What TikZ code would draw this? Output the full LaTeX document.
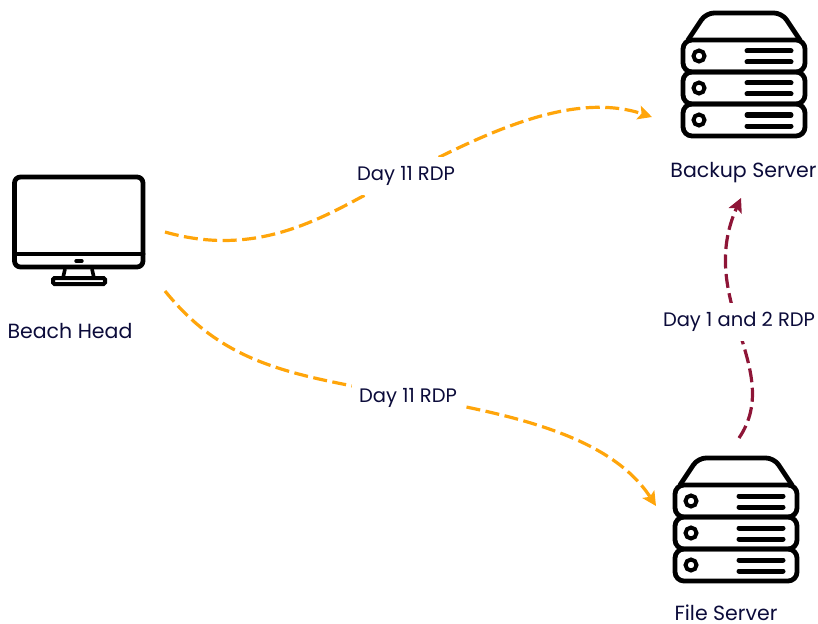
\documentclass[tikz,border=0pt]{standalone}
\usepackage{fontspec}
\setmainfont{Poppins}
\usetikzlibrary{arrows.meta}
\usetikzlibrary{positioning}
\definecolor{inktext}{HTML}{0B0B3A}
\definecolor{dayorange}{HTML}{FFA50A}
\definecolor{daymaroon}{HTML}{8E1537}
\tikzset{
  icon line/.style={line width=4.8pt,line join=round,line cap=round},
  name label/.style={text=inktext,font=\fontsize{20.5}{22}\selectfont,inner sep=0pt},
  day label/.style={text=inktext,font=\fontsize{19.5}{22}\selectfont,fill=white,inner xsep=7pt,inner ysep=0pt,minimum height=38pt},
  rdp link/.style={-{Stealth[length=14pt,width=14pt,inset=3pt]},line width=3.2pt,dash pattern=on 14pt off 5.5pt},
  pics/rackstack/.style={code={
    \draw[icon line,rounded corners=8pt] (-56,-33) -- (-38,-60) -- (38,-60) -- (56,-33);
    \foreach \y in {-33,-1,31} {
      \draw[icon line,rounded corners=9pt] (-61,\y) rectangle (61,\y+32);
      \draw[line width=4pt] (-45,\y+16) circle (5.5);
      \draw[line width=5pt,line cap=round] (3,\y+11) -- (47,\y+11);
      \draw[line width=5pt,line cap=round] (3,\y+22) -- (47,\y+22);
    }
  }},
  pics/desktop/.style={code={
    \draw[icon line,rounded corners=6pt] (-64.5,-55) rectangle (64,35);
    \draw[icon line] (-64.5,22) -- (64,22);
    \draw[line width=3.4pt,line cap=round] (-3,29) -- (3,29);
    \draw[line width=3.6pt] (-14,37) -- (-16,46);
    \draw[line width=3.6pt] (13,37) -- (15,46);
    \draw[line width=4pt,rounded corners=1.5pt] (-26,46) rectangle (26,52);
  }}
}

\begin{document}
\begin{tikzpicture}[x=1pt,y=-1pt]
  \useasboundingbox (0,0) rectangle (818,623);

  % icons
  \pic at (79,232) {desktop};
  \pic at (744,73) {rackstack};
  \pic at (736,518) {rackstack};

  \node[name label] (beach) at (70,331) {Beach Head};
  \node[name label] (backup) at (743.5,172.5) {Backup Server};
  \node[name label] (file) at (726,612.5) {File Server};

  \coordinate (beach top) at (165,232);
  \coordinate (beach low) at (165,291);
  \coordinate (backup in) at (652,117);
  \coordinate (backup low) at (741,198);
  \coordinate (file in) at (656,506);
  \coordinate (file top) at (739,438);
  \coordinate (top mid) at (400,177);
  \coordinate (low mid) at (408,396);

  \draw[rdp link,dayorange] (beach top) .. controls (270,262) and (340,205) .. (top mid)
    .. controls (480,136) and (570,90) .. (backup in);
  \draw[rdp link,dayorange] (beach low) .. controls (225,365) and (290,375) .. (low mid)
    .. controls (510,414) and (610,435) .. (file in);
  \draw[rdp link,daymaroon] (file top) .. controls (785,370) and (695,300) .. (backup low);

  \node[day label] (top rdp) at (406,176) {Day 11 RDP};
  \node[day label] (low rdp) at (408,398) {Day 11 RDP};
  \node[day label] (side rdp) at (739,322) {Day 1 and 2 RDP};
\end{tikzpicture}
\end{document}
